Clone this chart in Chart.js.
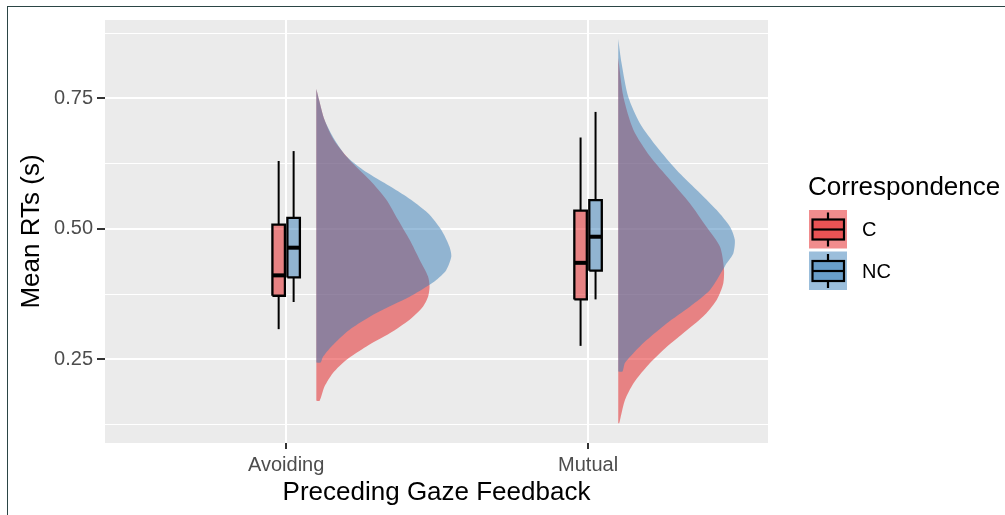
<!DOCTYPE html>
<html>
<head>
<meta charset="utf-8">
<title>Mean RTs by gaze feedback</title>
<script src="https://cdn.jsdelivr.net/npm/chart.js@4.4.1/dist/chart.umd.min.js"></script>
<style>
  html, body { margin: 0; padding: 0; background: #ffffff; }
  #wrap { position: relative; width: 1005px; height: 515px; overflow: hidden; }
  #frame { position: absolute; left: 7px; top: 6px; right: -2px; bottom: -2px;
           border-left: 1.5px solid #2b4545; border-top: 1.5px solid #2b4545; pointer-events: none; }
</style>
</head>
<body>
<div id="wrap">
  <canvas id="rtChart" width="1005" height="515"></canvas>
  <div id="frame"></div>
</div>
<script>
// Categories
const gazeLevels = ['Avoiding', 'Mutual'];
const corrLevels = ['C', 'NC'];

// Box plot stats, indexed [gaze][correspondence]
const whiskerLow  = [[0.308, 0.360], [0.276, 0.365]];
const quart1      = [[0.372, 0.407], [0.365, 0.420]];
const medians     = [[0.411, 0.464], [0.435, 0.485]];
const quart3      = [[0.508, 0.521], [0.535, 0.555]];
const whiskerHigh = [[0.630, 0.649], [0.675, 0.724]];

// Half violin outlines: RT values (top to bottom) and density half-widths
const avoidC_rt   = [0.768, 0.747, 0.709, 0.670, 0.632, 0.594, 0.556, 0.517, 0.479, 0.441, 0.409, 0.389, 0.370, 0.351, 0.326, 0.300, 0.275, 0.249, 0.224, 0.198, 0.171];
const avoidC_dens = [0, 0.009, 0.027, 0.058, 0.110, 0.176, 0.232, 0.271, 0.309, 0.342, 0.370, 0.375, 0.370, 0.353, 0.309, 0.243, 0.166, 0.099, 0.055, 0.027, 0.011];
const avoidNC_rt   = [0.768, 0.747, 0.709, 0.670, 0.639, 0.613, 0.588, 0.562, 0.530, 0.498, 0.466, 0.447, 0.421, 0.402, 0.393, 0.370, 0.339, 0.307, 0.275, 0.255, 0.244];
const avoidNC_dens = [0, 0.009, 0.027, 0.061, 0.099, 0.155, 0.226, 0.298, 0.370, 0.414, 0.441, 0.447, 0.430, 0.397, 0.375, 0.309, 0.199, 0.110, 0.050, 0.022, 0.014];
const mutualC_rt   = [0.827, 0.753, 0.690, 0.639, 0.594, 0.549, 0.504, 0.466, 0.425, 0.396, 0.364, 0.332, 0.300, 0.268, 0.236, 0.204, 0.172, 0.140, 0.128];
const mutualC_dens = [0, 0.017, 0.050, 0.105, 0.171, 0.237, 0.292, 0.337, 0.350, 0.348, 0.326, 0.281, 0.215, 0.149, 0.094, 0.050, 0.022, 0.008, 0.003];
const mutualNC_rt   = [0.863, 0.817, 0.753, 0.702, 0.658, 0.613, 0.575, 0.536, 0.504, 0.479, 0.453, 0.434, 0.425, 0.383, 0.351, 0.319, 0.287, 0.262, 0.243, 0.227];
const mutualNC_dens = [0, 0.011, 0.033, 0.072, 0.127, 0.193, 0.259, 0.326, 0.370, 0.386, 0.381, 0.359, 0.350, 0.304, 0.237, 0.160, 0.094, 0.050, 0.022, 0.014];

const violinRT   = [[avoidC_rt, avoidNC_rt], [mutualC_rt, mutualNC_rt]];
const violinDens = [[avoidC_dens, avoidNC_dens], [mutualC_dens, mutualNC_dens]];

// Y axis ticks (minor ones have no label)
const yTicks  = [0.125, 0.25, 0.375, 0.5, 0.625, 0.75, 0.875];
const yLabels = ['', '0.25', '', '0.50', '', '0.75', ''];

const fillColors = ['rgba(228,26,28,0.5)', 'rgba(55,126,184,0.5)'];
const BOX_DODGE = 0.0248;
const BOX_HALF = 0.0207;
const VIOLIN_NUDGE = 0.1;

// Build all the marks as scatter/line datasets
const datasets = [];
gazeLevels.forEach((g, gi) => {
    const pos = gi + 1;
    corrLevels.forEach((c, ci) => {
        // half violin, to the right of the boxes
        const base = pos + VIOLIN_NUDGE;
        const rt = violinRT[gi][ci];
        const dens = violinDens[gi][ci];
        const outline = rt.map((v, i) => ({ x: base + dens[i], y: v }));
        outline.push({ x: base, y: rt[rt.length - 1] });
        datasets.push({
            label: g + ' ' + c + ' density',
            data: outline,
            showLine: true, fill: 'shape', tension: 0.25,
            backgroundColor: fillColors[ci], borderColor: 'transparent', borderWidth: 0,
            pointRadius: 0, order: 4 - ci
        });

        // box plot
        const cx = pos + (ci === 0 ? -BOX_DODGE : BOX_DODGE);
        const q1 = quart1[gi][ci], q3 = quart3[gi][ci];
        const lineStyle = { showLine: true, fill: false, pointRadius: 0, borderColor: '#000000', borderWidth: 2, tension: 0 };
        datasets.push(Object.assign({}, lineStyle, {
            label: g + ' ' + c + ' lower whisker',
            data: [{ x: cx, y: whiskerLow[gi][ci] }, { x: cx, y: q1 }], order: 1
        }));
        datasets.push(Object.assign({}, lineStyle, {
            label: g + ' ' + c + ' upper whisker',
            data: [{ x: cx, y: q3 }, { x: cx, y: whiskerHigh[gi][ci] }], order: 1
        }));
        datasets.push(Object.assign({}, lineStyle, {
            label: g + ' ' + c + ' box',
            data: [
                { x: cx - BOX_HALF, y: q1 }, { x: cx - BOX_HALF, y: q3 },
                { x: cx + BOX_HALF, y: q3 }, { x: cx + BOX_HALF, y: q1 },
                { x: cx - BOX_HALF, y: q1 }
            ],
            fill: 'shape', backgroundColor: fillColors[ci], borderWidth: 2.3, borderJoinStyle: 'miter', order: 1
        }));
        datasets.push(Object.assign({}, lineStyle, {
            label: g + ' ' + c + ' median',
            data: [{ x: cx - BOX_HALF, y: medians[gi][ci] }, { x: cx + BOX_HALF, y: medians[gi][ci] }],
            borderWidth: 4, borderCapStyle: 'butt', order: 0
        }));
    });
});

// Grey ggplot panel behind the data
const panelBackground = {
    id: 'panelBackground',
    beforeDraw(chart) {
        const { ctx, chartArea: a } = chart;
        ctx.save();
        ctx.fillStyle = '#EBEBEB';
        ctx.fillRect(a.left, a.top, a.right - a.left, a.bottom - a.top);
        ctx.restore();
    }
};

// Boxplot style legend on the right
const boxLegend = {
    id: 'boxLegend',
    afterDraw(chart) {
        const ctx = chart.ctx;
        ctx.save();
        ctx.fillStyle = '#000000';
        ctx.font = '26px "Liberation Sans", Arial, sans-serif';
        ctx.textBaseline = 'alphabetic';
        ctx.textAlign = 'left';
        ctx.fillText('Correspondence', 808, 195);

        corrLevels.forEach((c, i) => {
            const top = 210 + i * 41.5;
            const mid = top + 19.5;
            ctx.fillStyle = '#ffffff';
            ctx.fillRect(809, top, 38, 38.5);
            ctx.fillStyle = fillColors[i];
            ctx.fillRect(809, top, 38, 38.5);

            ctx.strokeStyle = '#000000';
            ctx.lineWidth = 2.2;
            ctx.beginPath();
            ctx.moveTo(828, mid - 17); ctx.lineTo(828, mid - 10);
            ctx.moveTo(828, mid + 10); ctx.lineTo(828, mid + 17);
            ctx.stroke();
            ctx.fillStyle = fillColors[i];
            ctx.fillRect(812.5, mid - 10, 31.5, 20);
            ctx.strokeRect(812.5, mid - 10, 31.5, 20);
            ctx.beginPath();
            ctx.moveTo(812.5, mid); ctx.lineTo(844, mid);
            ctx.stroke();

            ctx.fillStyle = '#000000';
            ctx.font = '20px "Liberation Sans", Arial, sans-serif';
            ctx.textBaseline = 'middle';
            ctx.fillText(c, 862, mid + 1);
        });
        ctx.restore();
    }
};

Chart.defaults.font.family = '"Liberation Sans", Arial, sans-serif';

const ctx = document.getElementById('rtChart').getContext('2d');
window.rtChart = new Chart(ctx, {
    type: 'scatter',
    data: { datasets: datasets },
    options: {
        responsive: false,
        animation: false,
        layout: { padding: { left: 0, right: 237, top: 20, bottom: 0 } },
        plugins: {
            legend: { display: false },
            tooltip: { enabled: false }
        },
        scales: {
            x: {
                type: 'linear', min: 0.4, max: 2.596,
                afterBuildTicks: s => { s.ticks = [1, 2].map(v => ({ value: v })); },
                afterFit: s => { s.height = 72; },
                ticks: {
                    autoSkip: false, maxRotation: 0, padding: 4,
                    color: '#4D4D4D', font: { size: 20 },
                    callback: (v, i) => gazeLevels[i]
                },
                grid: { color: '#FFFFFF', lineWidth: 2, tickColor: '#333333', tickLength: 6, tickWidth: 2 },
                border: { display: false },
                title: {
                    display: true, text: 'Preceding Gaze Feedback', color: '#000000',
                    font: { size: 26 }, padding: { top: 0, bottom: 7 }
                }
            },
            y: {
                type: 'linear', min: 0.09, max: 0.90,
                afterBuildTicks: s => { s.ticks = yTicks.map(v => ({ value: v })); },
                afterFit: s => { s.width = 105; },
                ticks: {
                    autoSkip: false, padding: 4,
                    color: '#4D4D4D', font: { size: 20 },
                    callback: (v, i) => yLabels[i]
                },
                grid: {
                    color: '#FFFFFF',
                    lineWidth: c => (yLabels[c.index] ? 2 : 1.1),
                    tickColor: c => (yLabels[c.index] ? '#333333' : 'transparent'),
                    tickWidth: 2,
                    tickLength: 8
                },
                border: { display: false },
                title: {
                    display: true, text: 'Mean RTs (s)', color: '#000000',
                    font: { size: 26 }, padding: { top: 16, bottom: 0 }
                }
            }
        }
    },
    plugins: [panelBackground, boxLegend]
});
</script>
</body>
</html>
